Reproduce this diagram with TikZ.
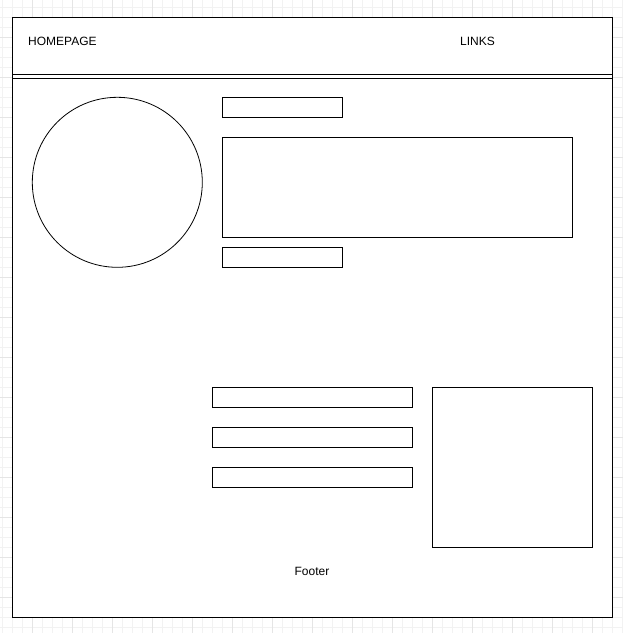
\documentclass[tikz,border=0pt]{standalone}
\usepackage{fontspec}
\setmainfont{Liberation Sans}
\begin{document}
\begin{tikzpicture}[x=1pt,y=-1pt,
  box/.style={draw=black,line width=0.8pt,fill=white,outer sep=0pt,inner sep=0pt},
  lbl/.style={font=\fontsize{12}{14}\selectfont,inner sep=0pt,anchor=west},
  minorgrid/.style={draw=black!5,line width=0.6pt},
  majorgrid/.style={draw=black!10,line width=0.6pt}]
\useasboundingbox (0,0) rectangle (623,633);
\fill[white] (0,0) rectangle (623,633);
% grid
\foreach \i in {0,...,62} {\draw[minorgrid] (2.5+10*\i,0) -- (2.5+10*\i,633);}
\foreach \i in {0,...,63} {\draw[minorgrid] (0,7.5+10*\i) -- (623,7.5+10*\i);}
\foreach \i in {0,...,15} {\draw[majorgrid] (-7.5+40*\i,0) -- (-7.5+40*\i,633);}
\foreach \i in {0,...,15} {\draw[majorgrid] (0,-2.5+40*\i) -- (623,-2.5+40*\i);}
% page frame
\node[box,minimum width=600,minimum height=600,anchor=north west] (frame) at (12.3,17.2) {};
\coordinate (hl1) at (12.3,74.6);
\coordinate (hr1) at (612.3,74.6);
\coordinate (hl2) at (12.3,78.6);
\coordinate (hr2) at (612.3,78.6);
\draw[line width=0.8pt] (hl1) -- (hr1);
\draw[line width=0.8pt] (hl2) -- (hr2);
\node[lbl] (home) at (28,41.5) {HOMEPAGE};
\node[lbl] (links) at (460,41.5) {LINKS};
\node[lbl,anchor=center] (footer) at (312,571.5) {Footer};
% content
\node[box,circle,minimum size=170] (photo) at (117.3,182.3) {};
\node[box,minimum width=120,minimum height=20,anchor=north west] (t1) at (222.3,97.3) {};
\node[box,minimum width=350,minimum height=100,anchor=north west] (t2) at (222.3,137.3) {};
\node[box,minimum width=120,minimum height=20,anchor=north west] (t3) at (222.3,247.3) {};
\node[box,minimum width=200,minimum height=20,anchor=north west] (f1) at (212.3,387.3) {};
\node[box,minimum width=200,minimum height=20,anchor=north west] (f2) at (212.3,427.3) {};
\node[box,minimum width=200,minimum height=20,anchor=north west] (f3) at (212.3,467.3) {};
\node[box,minimum width=160,minimum height=160,anchor=north west] (sq) at (432.3,387.3) {};
\end{tikzpicture}
\end{document}
